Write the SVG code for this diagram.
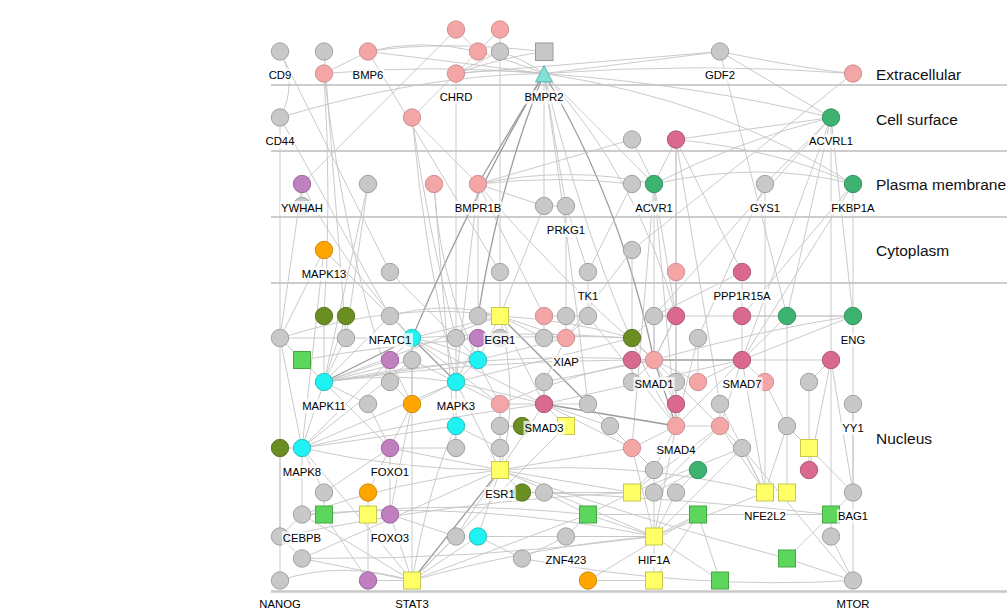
<svg xmlns="http://www.w3.org/2000/svg" width="1007" height="610" viewBox="0 0 1007 610">
<style>
.e{fill:none;stroke:#c4c4c4;stroke-width:0.9}
.e .d{stroke:#9c9c9c;stroke-width:1.3}
circle,rect.n,polygon{stroke-width:0.9}
.g{fill:#c8c8c8;stroke:#9a9a9a}
.p{fill:#f4a6a6;stroke:#c98a8a}
.dp{fill:#da6990;stroke:#a8506e}
.gr{fill:#3cb371;stroke:#2e8a57}
.ol{fill:#6b8e23;stroke:#52701a}
.cy{fill:#1ef2f2;stroke:#26b8b8}
.pu{fill:#c07fc0;stroke:#946094}
.or{fill:#ffa500;stroke:#c98300}
.ys{fill:#ffff66;stroke:#c8c850}
.gs{fill:#5cd65c;stroke:#45a845}
.tri{fill:#80e0d8;stroke:#55b0a8}
.lb{font-family:"Liberation Sans",Arial,sans-serif;font-size:11.3px;fill:#000;text-anchor:middle}
.bg{fill:#fff;fill-opacity:0.75}
.rg{font-family:"Liberation Sans",Arial,sans-serif;font-size:15.5px;fill:#111}
.sep{stroke:#999;stroke-width:1}
</style>
<rect width="1007" height="610" fill="#fff"/>
<g id="compartments">
<line class="sep" x1="271" y1="85" x2="1007" y2="85"/>
<line class="sep" x1="271" y1="151" x2="1007" y2="151"/>
<line class="sep" x1="271" y1="217" x2="1007" y2="217"/>
<line class="sep" x1="271" y1="283" x2="1007" y2="283"/>
<line x1="271" y1="591.5" x2="1007" y2="591.5" stroke="#c8c8c8" stroke-width="2.5"/>
<text class="rg" x="876" y="80">Extracellular</text>
<text class="rg" x="876" y="124.5">Cell surface</text>
<text class="rg" x="876" y="189.5">Plasma membrane</text>
<text class="rg" x="876" y="256">Cytoplasm</text>
<text class="rg" x="876" y="443.5">Nucleus</text>
</g>
<g id="edges" class="e">
<path d="M280 51.5Q298 85 280 117.5"/>
<path d="M280 51.5L390 272"/>
<path d="M324 51.5L346 338"/>
<path d="M324 73.5L368 51.5"/>
<path d="M324 73.5Q430 64 544 73.5"/>
<path d="M324 73.5Q332 200 324 316"/>
<path d="M324 73.5Q345 250 390 382"/>
<path d="M368 51.5Q455 62 544 73.5"/>
<path d="M368 51.5Q420 38 478 51.5"/>
<path d="M368 51.5L500 272"/>
<path d="M456 29.5L478 51.5"/>
<path d="M500 29.5L478 51.5"/>
<path d="M500 29.5L500 51.5"/>
<path d="M478 51.5L456 73.5"/>
<path d="M500 51.5L456 73.5"/>
<path d="M456 29.5L302 184"/>
<path d="M456 73.5Q500 68 544 73.5"/>
<path d="M456 73.5Q600 62 720 51.5"/>
<path d="M456 73.5L456 338"/>
<path d="M500 51.5L500 272"/>
<path d="M500 51.5Q525 60 544 73.5"/>
<path d="M478 51.5Q515 62 544 73.5"/>
<path d="M280 117.5Q420 75 544 73.5"/>
<path d="M280 117.5L280 338"/>
<path d="M280 117.5L390 316"/>
<path d="M412 117.5L456 73.5"/>
<path d="M412 117.5L478 184"/>
<path d="M412 117.5Q428 230 456 338"/>
<path d="M412 117.5Q425 260 456 382"/>
<path d="M720 51.5Q640 62 544 73.5"/>
<path d="M720 51.5L831 117.5"/>
<path d="M720 51.5L787 316"/>
<path d="M720 51.5Q800 68 853 73.5"/>
<path d="M544 73.5Q700 62 853 73.5"/>
<path d="M544 73.5Q720 100 853 184"/>
<path d="M544 73.5Q700 85 831 117.5"/>
<path class="d" d="M544 73.5L478 184"/>
<path d="M544 73.5L544 206"/>
<path d="M544 73.5L566 206"/>
<path d="M544 73.5L654 184"/>
<path class="d" d="M544 73.5Q620 200 654 360"/>
<path class="d" d="M544 73.5Q500 180 478 316"/>
<path d="M544 73.5Q640 180 676 316"/>
<path d="M544 73.5Q600 300 676 426"/>
<path d="M544 73.5Q570 250 588 404"/>
<path class="d" d="M544 73.5Q470 200 412 338"/>
<path d="M544 51.5Q500 58 456 73.5"/>
<path d="M544 51.5Q440 40 368 51.5"/>
<path d="M632 139.5L654 184"/>
<path d="M632 139.5L478 184"/>
<path d="M676 139.5L654 184"/>
<path d="M676 139.5Q780 150 853 184"/>
<path d="M676 139.5L831 117.5"/>
<path d="M676 139.5L676 272"/>
<path d="M676 139.5L742 272"/>
<path d="M676 139.5L676 316"/>
<path d="M676 139.5L720 404"/>
<path d="M853 73.5L632 250"/>
<path d="M831 117.5L853 316"/>
<path d="M831 117.5L831 514.5"/>
<path d="M831 117.5L765 184"/>
<path d="M831 117.5L742 360"/>
<path d="M831 117.5L787 316"/>
<path d="M831 117.5L654 316"/>
<path d="M831 117.5Q740 140 654 184"/>
<path d="M853 184L853 316"/>
<path d="M853 184L742 316"/>
<path d="M853 184L742 360"/>
<path d="M853 184Q760 160 654 184"/>
<path d="M765 184L765 382"/>
<path d="M765 184L698 338"/>
<path d="M654 184L654 360"/>
<path d="M654 184L676 316"/>
<path d="M654 184L676 426"/>
<path d="M654 184L632 448"/>
<path d="M632 184L588 272"/>
<path d="M632 184Q560 175 478 184"/>
<path d="M478 184L544 206"/>
<path d="M478 184Q570 165 654 184"/>
<path d="M478 184Q560 280 654 360"/>
<path d="M478 184L478 316"/>
<path d="M478 184L456 382"/>
<path d="M478 184L544 316"/>
<path d="M302 184L302 206"/>
<path d="M302 184Q340 260 412 338"/>
<path d="M302 184L280 338"/>
<path d="M368 184L346 338"/>
<path d="M368 184L324 382"/>
<path d="M434 184Q440 300 500 404"/>
<path d="M434 184L456 448"/>
<path d="M544 206L566 206"/>
<path d="M544 206L500 316"/>
<path d="M566 206L566 338"/>
<path d="M566 206L588 272"/>
<path d="M324 250L412 338"/>
<path d="M324 250L280 338"/>
<path d="M324 250L456 382"/>
<path d="M324 250L302 448"/>
<path d="M390 272L478 360"/>
<path d="M500 272L500 316"/>
<path d="M588 272L588 316"/>
<path d="M676 272L676 316"/>
<path d="M676 272L676 426"/>
<path d="M742 272L742 316"/>
<path d="M742 272L654 316"/>
<path d="M632 250L632 338"/>
<path d="M632 250L566 338"/>
<path d="M500 316L478 316"/>
<path class="d" d="M500 316L588 404"/>
<path d="M500 316Q570 320 632 338"/>
<path d="M500 316L478 360"/>
<path d="M500 316Q445 300 390 316"/>
<path d="M500 316L566 338"/>
<path d="M500 316L544 338"/>
<path d="M500 316L412 338"/>
<path d="M500 316L544 404"/>
<path d="M500 316Q520 400 500 470"/>
<path d="M280 338L346 338"/>
<path d="M346 338L412 338"/>
<path d="M280 338L324 382"/>
<path d="M280 338L302 448"/>
<path d="M280 338L280 536.5"/>
<path d="M302 360L324 382"/>
<path class="d" d="M324 382L412 338"/>
<path d="M324 382L390 360"/>
<path d="M324 382L412 360"/>
<path d="M324 382Q390 372 456 382"/>
<path d="M324 382L302 448"/>
<path d="M324 382L500 316"/>
<path d="M324 382L368 404"/>
<path d="M324 382L478 360"/>
<path d="M324 382L390 448"/>
<path d="M456 382L478 360"/>
<path d="M456 382L478 338"/>
<path class="d" d="M456 382L412 338"/>
<path d="M456 382L412 404"/>
<path d="M456 382L456 426"/>
<path d="M456 382L544 404"/>
<path d="M456 382L456 338"/>
<path d="M456 382L500 470"/>
<path d="M456 382L302 448"/>
<path d="M412 404L390 448"/>
<path d="M412 404L390 514.5"/>
<path d="M412 404L390 360"/>
<path d="M412 404L412 338"/>
<path d="M412 338L412 360"/>
<path d="M412 338Q450 345 478 360"/>
<path d="M412 338L544 404"/>
<path d="M412 338L500 404"/>
<path d="M390 360L390 382"/>
<path d="M302 448L280 448"/>
<path d="M302 448L456 426"/>
<path d="M302 448L302 514.5"/>
<path d="M302 448L324 492.5"/>
<path d="M302 448L412 580.5"/>
<path d="M302 448L412 360"/>
<path d="M302 448Q400 470 500 470"/>
<path d="M302 448L412 338"/>
<path d="M390 448L368 492.5"/>
<path d="M390 448L390 514.5"/>
<path d="M390 448L500 470"/>
<path d="M412 580.5L390 514.5"/>
<path d="M368 514.5L368 492.5"/>
<path d="M368 514.5L368 580.5"/>
<path d="M324 514.5L368 580.5"/>
<path d="M368 580.5L412 580.5"/>
<path d="M280 580.5Q340 560 412 580.5"/>
<path d="M302 558.5L500 470"/>
<path class="d" d="M412 580.5Q460 520 500 470"/>
<path d="M412 580.5L456 536.5"/>
<path d="M412 580.5L478 536.5"/>
<path d="M412 580.5Q540 545 654 536.5"/>
<path d="M412 580.5Q430 480 456 426"/>
<path d="M412 580.5L412 360"/>
<path d="M412 580.5L588 514.5"/>
<path d="M302 514.5L412 580.5"/>
<path d="M412 580.5L566 426"/>
<path d="M500 470L500 448"/>
<path d="M500 470L522 492.5"/>
<path d="M500 470L632 448"/>
<path d="M500 470L544 404"/>
<path d="M500 470L456 536.5"/>
<path d="M500 470L478 536.5"/>
<path d="M500 470L632 492.5"/>
<path d="M500 470Q400 480 302 514.5"/>
<path d="M500 470Q640 460 765 492.5"/>
<path class="d" d="M544 404L676 426"/>
<path d="M544 404L588 404"/>
<path d="M544 404L500 404"/>
<path d="M544 404L544 382"/>
<path d="M544 404L566 426"/>
<path d="M544 404L742 360"/>
<path d="M544 404L632 448"/>
<path d="M544 404L610 426"/>
<path d="M588 404L610 426"/>
<path d="M610 426L632 448"/>
<path d="M632 448L654 470"/>
<path d="M632 448L676 426"/>
<path d="M632 448L654 536.5"/>
<path d="M654 360L632 360"/>
<path d="M654 360L632 338"/>
<path class="d" d="M654 360L676 426"/>
<path class="d" d="M654 360L742 360"/>
<path d="M654 360L698 382"/>
<path d="M654 360L676 316"/>
<path d="M654 360L654 316"/>
<path d="M654 360L676 404"/>
<path d="M654 360L720 426"/>
<path d="M654 360L544 382"/>
<path d="M654 360L632 382"/>
<path d="M742 360L698 382"/>
<path d="M742 360L742 316"/>
<path d="M742 360L676 426"/>
<path d="M742 360L720 426"/>
<path d="M742 360L765 382"/>
<path d="M742 360L853 316"/>
<path d="M742 360L831 360"/>
<path d="M742 360L787 316"/>
<path d="M676 426L676 404"/>
<path d="M676 426L720 426"/>
<path d="M676 426L654 470"/>
<path d="M676 426L654 536.5"/>
<path d="M676 426L698 338"/>
<path d="M720 426L720 404"/>
<path d="M720 426L742 448"/>
<path d="M720 426L765 492.5"/>
<path d="M720 426L632 492.5"/>
<path d="M720 426L654 492.5"/>
<path d="M654 470L654 492.5"/>
<path d="M654 470L632 492.5"/>
<path d="M698 470L654 492.5"/>
<path d="M698 470L676 492.5"/>
<path d="M676 492.5L654 536.5"/>
<path d="M654 492.5L654 536.5"/>
<path d="M654 536.5L588 514.5"/>
<path d="M654 536.5L654 580.5"/>
<path d="M654 536.5L720 580.5"/>
<path d="M654 536.5L566 536.5"/>
<path d="M654 536.5L500 470"/>
<path d="M654 536.5L698 514.5"/>
<path d="M654 536.5L765 492.5"/>
<path d="M588 514.5L698 514.5"/>
<path d="M588 514.5L566 536.5"/>
<path d="M588 514.5L632 492.5"/>
<path d="M588 514.5L544 492.5"/>
<path d="M566 536.5L522 558.5"/>
<path d="M588 580.5L654 580.5"/>
<path d="M588 580.5L698 514.5"/>
<path d="M654 580.5L698 514.5"/>
<path d="M720 580.5L698 514.5"/>
<path d="M853 580.5L787 558.5"/>
<path d="M853 580.5L853 404"/>
<path d="M853 580.5L831 536.5"/>
<path d="M853 580.5L742 448"/>
<path d="M787 558.5L831 514.5"/>
<path d="M787 558.5Q640 520 500 470"/>
<path d="M698 514.5L831 514.5"/>
<path d="M831 514.5L853 492.5"/>
<path d="M831 514.5L831 536.5"/>
<path d="M831 514.5Q700 500 544 492.5"/>
<path d="M853 492.5L853 404"/>
<path d="M853 492.5L787 426"/>
<path d="M765 492.5L787 426"/>
<path d="M765 492.5L742 448"/>
<path d="M765 492.5L742 360"/>
<path d="M787 492.5L787 426"/>
<path d="M809 448L787 426"/>
<path d="M809 470L831 360"/>
<path d="M809 382L831 360"/>
<path d="M809 382L809 448"/>
<path d="M853 316L787 316"/>
<path d="M853 316L742 316"/>
<path d="M853 316L853 404"/>
<path d="M853 316Q760 330 654 360"/>
<path d="M787 316L742 316"/>
<path d="M787 316L787 426"/>
<path d="M742 316L654 316"/>
<path d="M676 316L654 316"/>
<path d="M676 316L654 360"/>
<path d="M676 316L676 404"/>
<path d="M698 338L698 382"/>
<path d="M632 338Q520 330 412 338"/>
<path d="M632 338L456 382"/>
<path d="M632 360L632 382"/>
<path d="M632 360Q480 360 324 382"/>
<path d="M544 316L544 338"/>
<path d="M544 316L566 316"/>
<path d="M544 338L566 338"/>
<path d="M566 338L588 316"/>
<path d="M566 338L544 382"/>
<path d="M566 338L478 360"/>
<path d="M544 382L544 404"/>
<path d="M456 448L456 426"/>
<path d="M456 448L390 448"/>
<path d="M500 426L500 448"/>
<path d="M522 426L500 426"/>
<path d="M500 404L500 426"/>
<path d="M500 404L456 382"/>
<path d="M500 404Q580 370 654 360"/>
<path d="M522 492.5L544 492.5"/>
<path d="M544 492.5L632 492.5"/>
<path d="M456 536.5L390 514.5"/>
<path d="M478 536.5L654 536.5"/>
<path d="M478 536.5L522 558.5"/>
<path d="M522 558.5Q690 590 853 580.5"/>
<path d="M302 558.5Q480 560 654 536.5"/>
<path d="M280 536.5L302 558.5"/>
<path d="M324 492.5L324 514.5"/>
<path d="M324 492.5L390 448"/>
<path d="M302 514.5L280 536.5"/>
<path d="M302 514.5L324 514.5"/>
<path d="M302 558.5L412 580.5"/>
<path d="M478 338L456 338"/>
<path d="M478 338L478 360"/>
<path d="M412 360L456 382"/>
<path d="M390 382L412 404"/>
<path d="M368 404L390 448"/>
<path d="M456 426L500 448"/>
<path d="M346 316L324 382"/>
<path d="M324 316L324 382"/>
<path d="M346 338L324 382"/>
<path d="M390 316L412 338"/>
<path d="M390 316L324 382"/>
<path d="M566 316L588 316"/>
<path d="M588 316L676 426"/>
<path d="M654 316L632 338"/>
<path d="M720 404L765 492.5"/>
<path d="M742 448L654 536.5"/>
<path d="M742 448L632 492.5"/>
<path d="M787 426L765 382"/>
<path d="M765 382L765 492.5"/>
<path d="M831 360L853 492.5"/>
<path d="M809 448L809 470"/>
<path d="M302 514.5Q480 500 654 536.5"/>
<path d="M324 514.5Q450 500 588 514.5"/>
<path d="M280 536.5Q460 500 632 492.5"/>
<path d="M302 448Q420 420 544 404"/>
<path d="M324 382Q490 350 654 360"/>
<path d="M302 360Q470 330 632 338"/>
<path d="M280 338Q400 300 500 316"/>
<path d="M280 580.5L280 536.5"/>
<path d="M280 448L280 536.5"/>
</g>
<g id="nodes">
<g id="n-x456-r0"><circle class="p" cx="456" cy="29.5" r="8.7"/></g>
<g id="n-x500-r0"><circle class="p" cx="500" cy="29.5" r="8.7"/></g>
<g id="CD9"><circle class="g" cx="280" cy="51.5" r="8.7"/></g>
<g id="n-x324-r1"><circle class="g" cx="324" cy="51.5" r="8.7"/></g>
<g id="BMP6"><circle class="p" cx="368" cy="51.5" r="8.7"/></g>
<g id="n-x478-r1"><circle class="p" cx="478" cy="51.5" r="8.7"/></g>
<g id="n-x500-r1"><circle class="g" cx="500" cy="51.5" r="8.7"/></g>
<g id="n-sq544"><rect class="g" x="535.5" y="43" width="17.5" height="17.5"/></g>
<g id="GDF2"><circle class="g" cx="720" cy="51.5" r="8.7"/></g>
<g id="n-x324-r2"><circle class="p" cx="324" cy="73.5" r="8.7"/></g>
<g id="CHRD"><circle class="p" cx="456" cy="73.5" r="8.7"/></g>
<g id="BMPR2"><polygon class="tri" points="544,65.5 535.5,82 552.5,82"/></g>
<g id="n-x853-r2"><circle class="p" cx="853" cy="73.5" r="8.7"/></g>
<g id="CD44"><circle class="g" cx="280" cy="117.5" r="8.7"/></g>
<g id="n-x412-r4"><circle class="p" cx="412" cy="117.5" r="8.7"/></g>
<g id="ACVRL1"><circle class="gr" cx="831" cy="117.5" r="8.7"/></g>
<g id="n-x632-r5"><circle class="g" cx="632" cy="139.5" r="8.7"/></g>
<g id="n-x676-r5"><circle class="dp" cx="676" cy="139.5" r="8.7"/></g>
<g id="YWHAH"><circle class="pu" cx="302" cy="184" r="8.7"/></g>
<g id="n-x368-r7"><circle class="g" cx="368" cy="184" r="8.7"/></g>
<g id="n-x434-r7"><circle class="p" cx="434" cy="184" r="8.7"/></g>
<g id="BMPR1B"><circle class="p" cx="478" cy="184" r="8.7"/></g>
<g id="n-x632-r7"><circle class="g" cx="632" cy="184" r="8.7"/></g>
<g id="ACVR1"><circle class="gr" cx="654" cy="184" r="8.7"/></g>
<g id="GYS1"><circle class="g" cx="765" cy="184" r="8.7"/></g>
<g id="FKBP1A"><circle class="gr" cx="853" cy="184" r="8.7"/></g>
<g id="n-x302-r8"><circle class="g" cx="302" cy="206" r="8.7"/></g>
<g id="n-x544-r8"><circle class="g" cx="544" cy="206" r="8.7"/></g>
<g id="PRKG1"><circle class="g" cx="566" cy="206" r="8.7"/></g>
<g id="MAPK13"><circle class="or" cx="324" cy="250" r="8.7"/></g>
<g id="n-x632-r10"><circle class="g" cx="632" cy="250" r="8.7"/></g>
<g id="n-x390-r11"><circle class="g" cx="390" cy="272" r="8.7"/></g>
<g id="n-x500-r11"><circle class="g" cx="500" cy="272" r="8.7"/></g>
<g id="TK1"><circle class="g" cx="588" cy="272" r="8.7"/></g>
<g id="n-x676-r11"><circle class="p" cx="676" cy="272" r="8.7"/></g>
<g id="PPP1R15A"><circle class="dp" cx="742" cy="272" r="8.7"/></g>
<g id="n-x324-r13"><circle class="ol" cx="324" cy="316" r="8.7"/></g>
<g id="n-x346-r13"><circle class="ol" cx="346" cy="316" r="8.7"/></g>
<g id="NFATC1"><circle class="g" cx="390" cy="316" r="8.7"/></g>
<g id="n-x478-r13"><circle class="g" cx="478" cy="316" r="8.7"/></g>
<g id="EGR1"><rect class="ys" x="491.5" y="307.5" width="17" height="17"/></g>
<g id="n-x544-r13"><circle class="p" cx="544" cy="316" r="8.7"/></g>
<g id="n-x566-r13"><circle class="g" cx="566" cy="316" r="8.7"/></g>
<g id="n-x588-r13"><circle class="g" cx="588" cy="316" r="8.7"/></g>
<g id="n-x654-r13"><circle class="g" cx="654" cy="316" r="8.7"/></g>
<g id="n-x676-r13"><circle class="dp" cx="676" cy="316" r="8.7"/></g>
<g id="n-x742-r13"><circle class="dp" cx="742" cy="316" r="8.7"/></g>
<g id="n-x787-r13"><circle class="gr" cx="787" cy="316" r="8.7"/></g>
<g id="ENG"><circle class="gr" cx="853" cy="316" r="8.7"/></g>
<g id="n-x280-r14"><circle class="g" cx="280" cy="338" r="8.7"/></g>
<g id="n-x346-r14"><circle class="g" cx="346" cy="338" r="8.7"/></g>
<g id="n-x412-r14"><circle class="cy" cx="412" cy="338" r="8.7"/></g>
<g id="n-x456-r14"><circle class="g" cx="456" cy="338" r="8.7"/></g>
<g id="n-x478-r14"><circle class="pu" cx="478" cy="338" r="8.7"/></g>
<g id="n-x500-r14"><circle class="g" cx="500" cy="338" r="8.7"/></g>
<g id="n-x544-r14"><circle class="g" cx="544" cy="338" r="8.7"/></g>
<g id="XIAP"><circle class="p" cx="566" cy="338" r="8.7"/></g>
<g id="n-x632-r14"><circle class="ol" cx="632" cy="338" r="8.7"/></g>
<g id="n-x698-r14"><circle class="g" cx="698" cy="338" r="8.7"/></g>
<g id="n-x302-r15"><rect class="gs" x="293.5" y="351.5" width="17" height="17"/></g>
<g id="n-x390-r15"><circle class="pu" cx="390" cy="360" r="8.7"/></g>
<g id="n-x412-r15"><circle class="g" cx="412" cy="360" r="8.7"/></g>
<g id="n-x478-r15"><circle class="cy" cx="478" cy="360" r="8.7"/></g>
<g id="n-x632-r15"><circle class="dp" cx="632" cy="360" r="8.7"/></g>
<g id="SMAD1"><circle class="p" cx="654" cy="360" r="8.7"/></g>
<g id="SMAD7"><circle class="dp" cx="742" cy="360" r="8.7"/></g>
<g id="n-x831-r15"><circle class="dp" cx="831" cy="360" r="8.7"/></g>
<g id="MAPK11"><circle class="cy" cx="324" cy="382" r="8.7"/></g>
<g id="n-x390-r16"><circle class="g" cx="390" cy="382" r="8.7"/></g>
<g id="MAPK3"><circle class="cy" cx="456" cy="382" r="8.7"/></g>
<g id="n-x544-r16"><circle class="g" cx="544" cy="382" r="8.7"/></g>
<g id="n-x632-r16"><circle class="g" cx="632" cy="382" r="8.7"/></g>
<g id="n-x676-r16"><circle class="g" cx="676" cy="382" r="8.7"/></g>
<g id="n-x698-r16"><circle class="p" cx="698" cy="382" r="8.7"/></g>
<g id="n-x765-r16"><circle class="p" cx="765" cy="382" r="8.7"/></g>
<g id="n-x809-r16"><circle class="g" cx="809" cy="382" r="8.7"/></g>
<g id="n-x368-r17"><circle class="g" cx="368" cy="404" r="8.7"/></g>
<g id="n-x412-r17"><circle class="or" cx="412" cy="404" r="8.7"/></g>
<g id="n-x500-r17"><circle class="p" cx="500" cy="404" r="8.7"/></g>
<g id="SMAD3"><circle class="dp" cx="544" cy="404" r="8.7"/></g>
<g id="n-x588-r17"><circle class="g" cx="588" cy="404" r="8.7"/></g>
<g id="n-x676-r17"><circle class="dp" cx="676" cy="404" r="8.7"/></g>
<g id="n-x720-r17"><circle class="g" cx="720" cy="404" r="8.7"/></g>
<g id="YY1"><circle class="g" cx="853" cy="404" r="8.7"/></g>
<g id="n-x456-r18"><circle class="cy" cx="456" cy="426" r="8.7"/></g>
<g id="n-x500-r18"><circle class="g" cx="500" cy="426" r="8.7"/></g>
<g id="n-x522-r18"><circle class="ol" cx="522" cy="426" r="8.7"/></g>
<g id="n-x566-r18"><rect class="ys" x="557.5" y="417.5" width="17" height="17"/></g>
<g id="n-x610-r18"><circle class="g" cx="610" cy="426" r="8.7"/></g>
<g id="SMAD4"><circle class="p" cx="676" cy="426" r="8.7"/></g>
<g id="n-x720-r18"><circle class="p" cx="720" cy="426" r="8.7"/></g>
<g id="n-x787-r18"><circle class="g" cx="787" cy="426" r="8.7"/></g>
<g id="n-x280-r19"><circle class="ol" cx="280" cy="448" r="8.7"/></g>
<g id="MAPK8"><circle class="cy" cx="302" cy="448" r="8.7"/></g>
<g id="FOXO1"><circle class="pu" cx="390" cy="448" r="8.7"/></g>
<g id="n-x456-r19"><circle class="g" cx="456" cy="448" r="8.7"/></g>
<g id="n-x500-r19"><circle class="g" cx="500" cy="448" r="8.7"/></g>
<g id="n-x632-r19"><circle class="p" cx="632" cy="448" r="8.7"/></g>
<g id="n-x742-r19"><circle class="g" cx="742" cy="448" r="8.7"/></g>
<g id="n-x809-r19"><rect class="ys" x="800.5" y="439.5" width="17" height="17"/></g>
<g id="ESR1"><rect class="ys" x="491.5" y="461.5" width="17" height="17"/></g>
<g id="n-x654-r20"><circle class="g" cx="654" cy="470" r="8.7"/></g>
<g id="n-x698-r20"><circle class="gr" cx="698" cy="470" r="8.7"/></g>
<g id="n-x809-r20"><circle class="dp" cx="809" cy="470" r="8.7"/></g>
<g id="n-x324-r21"><circle class="g" cx="324" cy="492.5" r="8.7"/></g>
<g id="n-x368-r21"><circle class="or" cx="368" cy="492.5" r="8.7"/></g>
<g id="n-x522-r21"><circle class="ol" cx="522" cy="492.5" r="8.7"/></g>
<g id="n-x544-r21"><circle class="g" cx="544" cy="492.5" r="8.7"/></g>
<g id="n-x632-r21"><rect class="ys" x="623.5" y="484" width="17" height="17"/></g>
<g id="n-x654-r21"><circle class="g" cx="654" cy="492.5" r="8.7"/></g>
<g id="n-x676-r21"><circle class="g" cx="676" cy="492.5" r="8.7"/></g>
<g id="NFE2L2"><rect class="ys" x="756.5" y="484" width="17" height="17"/></g>
<g id="n-x787-r21"><rect class="ys" x="778.5" y="484" width="17" height="17"/></g>
<g id="BAG1"><circle class="g" cx="853" cy="492.5" r="8.7"/></g>
<g id="CEBPB"><circle class="g" cx="302" cy="514.5" r="8.7"/></g>
<g id="n-x324-r22"><rect class="gs" x="315.5" y="506" width="17" height="17"/></g>
<g id="n-x368-r22"><rect class="ys" x="359.5" y="506" width="17" height="17"/></g>
<g id="FOXO3"><circle class="pu" cx="390" cy="514.5" r="8.7"/></g>
<g id="n-x588-r22"><rect class="gs" x="579.5" y="506" width="17" height="17"/></g>
<g id="n-x698-r22"><rect class="gs" x="689.5" y="506" width="17" height="17"/></g>
<g id="n-x831-r22"><rect class="gs" x="822.5" y="506" width="17" height="17"/></g>
<g id="n-x280-r23"><circle class="g" cx="280" cy="536.5" r="8.7"/></g>
<g id="n-x456-r23"><circle class="g" cx="456" cy="536.5" r="8.7"/></g>
<g id="n-x478-r23"><circle class="cy" cx="478" cy="536.5" r="8.7"/></g>
<g id="ZNF423"><circle class="g" cx="566" cy="536.5" r="8.7"/></g>
<g id="HIF1A"><rect class="ys" x="645.5" y="528" width="17" height="17"/></g>
<g id="n-x831-r23"><circle class="g" cx="831" cy="536.5" r="8.7"/></g>
<g id="n-x302-r24"><circle class="g" cx="302" cy="558.5" r="8.7"/></g>
<g id="n-x522-r24"><circle class="g" cx="522" cy="558.5" r="8.7"/></g>
<g id="n-x787-r24"><rect class="gs" x="778.5" y="550" width="17" height="17"/></g>
<g id="NANOG"><circle class="g" cx="280" cy="580.5" r="8.7"/></g>
<g id="n-x368-r25"><circle class="pu" cx="368" cy="580.5" r="8.7"/></g>
<g id="STAT3"><rect class="ys" x="403.5" y="572" width="17" height="17"/></g>
<g id="n-x588-r25"><circle class="or" cx="588" cy="580.5" r="8.7"/></g>
<g id="n-x654-r25"><rect class="ys" x="645.5" y="572" width="17" height="17"/></g>
<g id="n-x720-r25"><rect class="gs" x="711.5" y="572" width="17" height="17"/></g>
<g id="MTOR"><circle class="g" cx="853" cy="580.5" r="8.7"/></g>
</g>
<g id="labels">
<rect class="bg" x="267.7" y="68.5" width="24.6" height="14"/><text class="lb" x="280" y="79">CD9</text>
<rect class="bg" x="351.6" y="68.5" width="32.8" height="14"/><text class="lb" x="368" y="79">BMP6</text>
<rect class="bg" x="438.7" y="90.5" width="34.6" height="14"/><text class="lb" x="456" y="101">CHRD</text>
<rect class="bg" x="523.5" y="90.5" width="41" height="14"/><text class="lb" x="544" y="101">BMPR2</text>
<rect class="bg" x="704" y="68.5" width="32" height="14"/><text class="lb" x="720" y="79">GDF2</text>
<rect class="bg" x="264.5" y="134.5" width="31" height="14"/><text class="lb" x="280" y="145">CD44</text>
<rect class="bg" x="808" y="134.5" width="46" height="14"/><text class="lb" x="831" y="145">ACVRL1</text>
<rect class="bg" x="280" y="201" width="44" height="14"/><text class="lb" x="302" y="211.5">YWHAH</text>
<rect class="bg" x="453.7" y="201" width="48.6" height="14"/><text class="lb" x="478" y="211.5">BMPR1B</text>
<rect class="bg" x="634" y="201" width="40" height="14"/><text class="lb" x="654" y="211.5">ACVR1</text>
<rect class="bg" x="749" y="201" width="32" height="14"/><text class="lb" x="765" y="211.5">GYS1</text>
<rect class="bg" x="830.3" y="201" width="45.4" height="14"/><text class="lb" x="853" y="211.5">FKBP1A</text>
<rect class="bg" x="545.8" y="223" width="40.4" height="14"/><text class="lb" x="566" y="233.5">PRKG1</text>
<rect class="bg" x="301.7" y="267" width="44.6" height="14"/><text class="lb" x="324" y="277.5">MAPK13</text>
<rect class="bg" x="576.6" y="289" width="22.8" height="14"/><text class="lb" x="588" y="299.5">TK1</text>
<rect class="bg" x="713.4" y="289" width="57.2" height="14"/><text class="lb" x="742" y="299.5">PPP1R15A</text>
<rect class="bg" x="367" y="333" width="46" height="14"/><text class="lb" x="390" y="343.5">NFATC1</text>
<rect class="bg" x="483.6" y="333" width="32.8" height="14"/><text class="lb" x="500" y="343.5">EGR1</text>
<rect class="bg" x="839.7" y="333" width="26.6" height="14"/><text class="lb" x="853" y="343.5">ENG</text>
<rect class="bg" x="552.1" y="355" width="27.8" height="14"/><text class="lb" x="566" y="365.5">XIAP</text>
<rect class="bg" x="633.5" y="377" width="41" height="14"/><text class="lb" x="654" y="387.5">SMAD1</text>
<rect class="bg" x="721.5" y="377" width="41" height="14"/><text class="lb" x="742" y="387.5">SMAD7</text>
<rect class="bg" x="301.7" y="399" width="44.6" height="14"/><text class="lb" x="324" y="409.5">MAPK11</text>
<rect class="bg" x="435.8" y="399" width="40.4" height="14"/><text class="lb" x="456" y="409.5">MAPK3</text>
<rect class="bg" x="523.5" y="421" width="41" height="14"/><text class="lb" x="544" y="431.5">SMAD3</text>
<rect class="bg" x="841.3" y="421" width="23.4" height="14"/><text class="lb" x="853" y="431.5">YY1</text>
<rect class="bg" x="655.5" y="443" width="41" height="14"/><text class="lb" x="676" y="453.5">SMAD4</text>
<rect class="bg" x="281.8" y="465" width="40.4" height="14"/><text class="lb" x="302" y="475.5">MAPK8</text>
<rect class="bg" x="369.8" y="465" width="40.4" height="14"/><text class="lb" x="390" y="475.5">FOXO1</text>
<rect class="bg" x="484.2" y="487" width="31.6" height="14"/><text class="lb" x="500" y="497.5">ESR1</text>
<rect class="bg" x="743.8" y="509.5" width="42.4" height="14"/><text class="lb" x="765" y="520">NFE2L2</text>
<rect class="bg" x="837" y="509.5" width="32" height="14"/><text class="lb" x="853" y="520">BAG1</text>
<rect class="bg" x="281.8" y="531.5" width="40.4" height="14"/><text class="lb" x="302" y="542">CEBPB</text>
<rect class="bg" x="369.8" y="531.5" width="40.4" height="14"/><text class="lb" x="390" y="542">FOXO3</text>
<rect class="bg" x="545.3" y="553.5" width="41.4" height="14"/><text class="lb" x="566" y="564">ZNF423</text>
<rect class="bg" x="637.8" y="553.5" width="32.4" height="14"/><text class="lb" x="654" y="564">HIF1A</text>
<rect class="bg" x="259" y="597.5" width="42" height="12.5"/><text class="lb" x="280" y="608">NANOG</text>
<rect class="bg" x="394.2" y="597.5" width="35.6" height="12.5"/><text class="lb" x="412" y="608">STAT3</text>
<rect class="bg" x="835.3" y="597.5" width="35.4" height="12.5"/><text class="lb" x="853" y="608">MTOR</text>
</g>
</svg>
